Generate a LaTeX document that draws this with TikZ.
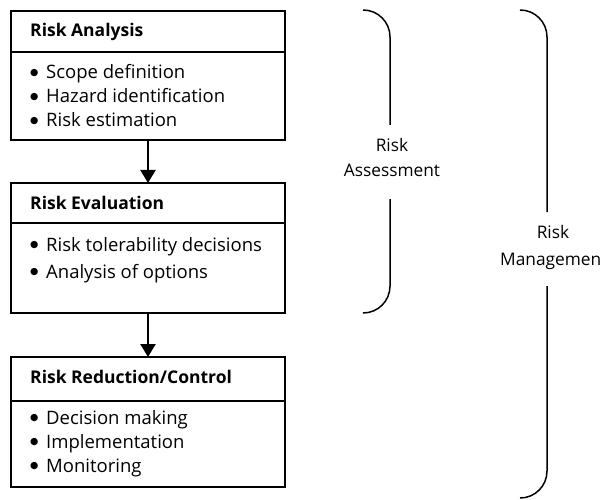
\documentclass[tikz,border=0pt]{standalone}
\usepackage{fontspec}
\setmainfont{Open Sans}
\newfontfamily\dotfont{DejaVu Sans}
\usetikzlibrary{arrows.meta}
\begin{document}
\begin{tikzpicture}[x=1pt,y=-1pt,
  head/.style={draw, line width=1.1pt, minimum width=274pt, minimum height=#1, inner sep=0pt, outer sep=0pt, anchor=north west},
  body/.style={draw, line width=1.1pt, minimum width=274pt, minimum height=#1, inner sep=0pt, outer sep=0pt, anchor=north},
  title/.style={anchor=base west, inner sep=0pt, font=\fontsize{17.5}{20}\selectfont\bfseries},
  item/.style={anchor=base west, inner sep=0pt, font=\fontsize{18.5}{22}\selectfont},
  side/.style={anchor=base, inner sep=0pt, font=\fontsize{17.3}{20}\selectfont},
  flow/.style={line width=2.4pt, -{Triangle[length=13pt,width=15pt]}},
  brace/.style={line width=1.5pt}]
\useasboundingbox (0,0) rectangle (608,500);
\newcommand{\bul}[1]{\makebox[16pt][l]{\raisebox{3.5pt}{\dotfont\fontsize{9.5}{10}\selectfont ●}}#1}

% Risk Analysis
\node[head=41pt] (h1) at (11,11) {};
\node[body=88pt] (b1) at (h1.south) {};
\node[title] (t1) at (30,37) {Risk Analysis};
\node[item] (i11) at (30,79) {\bul{Scope definition}};
\node[item] (i12) at (30,103) {\bul{Hazard identification}};
\node[item] (i13) at (30,127) {\bul{Risk estimation}};

% Risk Evaluation
\node[head=40pt] (h2) at (11,183) {};
\node[body=90pt] (b2) at (h2.south) {};
\node[title] (t2) at (30,209) {Risk Evaluation};
\node[item] (i21) at (30,251) {\bul{Risk tolerability decisions}};
\node[item] (i22) at (30,278) {\bul{Analysis of options}};

% Risk Reduction/Control
\node[head=44pt] (h3) at (11,357) {};
\node[body=86pt] (b3) at (h3.south) {};
\node[title] (t3) at (30,383) {Risk Reduction/Control};
\node[item] (i31) at (30,424) {\bul{Decision making}};
\node[item] (i32) at (30,448) {\bul{Implementation}};
\node[item] (i33) at (30,472) {\bul{Monitoring}};

% flow between stages
\draw[flow] (b1.south) -- (h2.north);
\draw[flow] (b2.south) -- (h3.north);

% Risk Assessment brace
\node[side] (ra1) at (392,152) {Risk};
\node[side] (ra2) at (392,177) {Assessment};
\draw[brace] (363,10) .. controls (378,10) and (390,22) .. (390,37) -- (390,125);
\draw[brace] (390,199) -- (390,286) .. controls (390,301) and (378,313) .. (363,313);

% Risk Management brace
\node[side] (rm1) at (553,238) {Risk};
\node[side, anchor=base west] (rm2) at (500,265) {Managemen};
\draw[brace] (520,10) .. controls (535,10) and (547,22) .. (547,37) -- (547,212);
\draw[brace] (547,286) -- (547,471) .. controls (547,486) and (535,498) .. (520,498);
\end{tikzpicture}
\end{document}
